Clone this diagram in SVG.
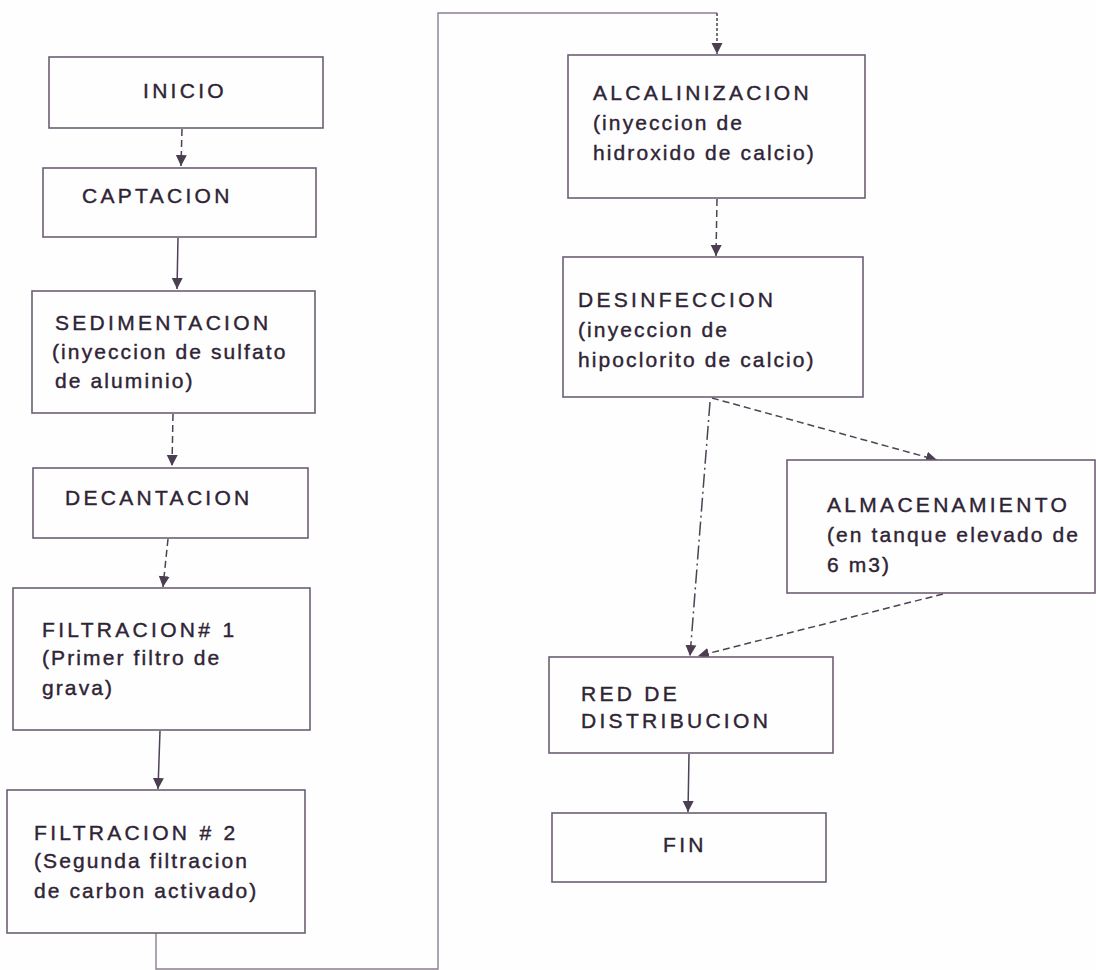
<svg xmlns="http://www.w3.org/2000/svg" width="1096" height="970" viewBox="0 0 1096 970">
<style>
.box{fill:#fefefe;stroke:#6d5f74;stroke-width:1.6}
.h{font-family:"Liberation Sans",Arial,sans-serif;font-size:21px;letter-spacing:3.3px;fill:#2f2435;stroke:#2f2435;stroke-width:0.4}
.t{font-family:"Liberation Sans",Arial,sans-serif;font-size:21px;letter-spacing:2.1px;fill:#2f2435;stroke:#2f2435;stroke-width:0.4}
.c{fill:none;stroke:#4e4254;stroke-width:1.5}
.d{stroke-dasharray:7 4}
.dot{stroke-dasharray:3 2}
.loop{fill:none;stroke:#8a7e90;stroke-width:1.4}
</style>
<defs>
<marker id="ah" markerWidth="12" markerHeight="12" refX="11" refY="6" orient="auto" markerUnits="userSpaceOnUse">
<path d="M0,0.5 L11,6 L0,11.5 Z" fill="#4a3e50"/>
</marker>
</defs>
<rect width="1096" height="970" fill="#fefefe"/>
<g id="connectors">
<path class="c d" d="M182,129 L181,166" marker-end="url(#ah)"/>
<path class="c" d="M178,238 L177,289" marker-end="url(#ah)"/>
<path class="c d" d="M173,414 L172,466" marker-end="url(#ah)"/>
<path class="c d" d="M168,539 L163,587" marker-end="url(#ah)"/>
<path class="c" d="M160,731 L158,789" marker-end="url(#ah)"/>
<path class="loop" d="M156,933 L156,969 L438,969 L438,13 L717,13"/>
<path class="c dot" d="M717,13 L717,54" marker-end="url(#ah)"/>
<path class="c d" d="M717,199 L716,256" marker-end="url(#ah)"/>
<path class="c d" d="M712,398 L937,460" marker-end="url(#ah)"/>
<path class="c" stroke-dasharray="14 4 2 4" d="M710,402 L690,656" marker-end="url(#ah)"/>
<path class="c d" d="M943,594 L698,656" marker-end="url(#ah)"/>
<path class="c" d="M689,754 L688,812" marker-end="url(#ah)"/>
</g>
<g id="inicio">
<rect class="box" x="49" y="57" width="274" height="71"/>
<text class="h" x="143" y="98">INICIO</text>
</g>
<g id="captacion">
<rect class="box" x="43" y="168" width="273" height="69"/>
<text class="h" x="82" y="203">CAPTACION</text>
</g>
<g id="sedimentacion">
<rect class="box" x="32" y="291" width="283" height="122"/>
<text class="h" x="55" y="330">SEDIMENTACION</text>
<text class="t" x="52" y="359">(inyeccion de sulfato</text>
<text class="t" x="55" y="388">de aluminio)</text>
</g>
<g id="decantacion">
<rect class="box" x="33" y="468" width="275" height="70"/>
<text class="h" x="65" y="505">DECANTACION</text>
</g>
<g id="filtracion1">
<rect class="box" x="13" y="588" width="297" height="142"/>
<text class="h" x="42" y="637">FILTRACION# 1</text>
<text class="t" x="42" y="665">(Primer filtro de</text>
<text class="t" x="42" y="695">grava)</text>
</g>
<g id="filtracion2">
<rect class="box" x="7" y="790" width="298" height="143"/>
<text class="h" x="34" y="840">FILTRACION # 2</text>
<text class="t" x="34" y="868">(Segunda filtracion</text>
<text class="t" x="34" y="898">de carbon activado)</text>
</g>
<g id="alcalinizacion">
<rect class="box" x="568" y="55" width="297" height="143"/>
<text class="h" x="593" y="100">ALCALINIZACION</text>
<text class="t" x="593" y="130">(inyeccion de</text>
<text class="t" x="593" y="160">hidroxido de calcio)</text>
</g>
<g id="desinfeccion">
<rect class="box" x="563" y="257" width="300" height="140"/>
<text class="h" x="578" y="307">DESINFECCION</text>
<text class="t" x="578" y="337">(inyeccion de</text>
<text class="t" x="578" y="367">hipoclorito de calcio)</text>
</g>
<g id="almacenamiento">
<rect class="box" x="787" y="460" width="308" height="133"/>
<text class="h" x="827" y="512">ALMACENAMIENTO</text>
<text class="t" x="827" y="542">(en tanque elevado de</text>
<text class="t" x="827" y="572">6 m3)</text>
</g>
<g id="red">
<rect class="box" x="549" y="657" width="284" height="96"/>
<text class="h" x="581" y="701">RED DE</text>
<text class="h" x="581" y="728">DISTRIBUCION</text>
</g>
<g id="fin">
<rect class="box" x="552" y="813" width="274" height="69"/>
<text class="h" x="663" y="852">FIN</text>
</g>
</svg>
